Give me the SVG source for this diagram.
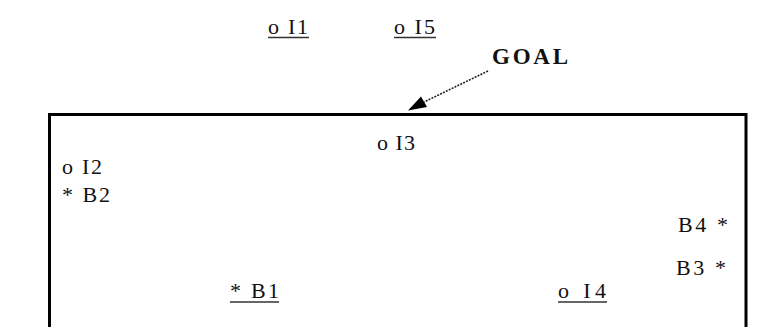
<svg xmlns="http://www.w3.org/2000/svg" width="781" height="327" viewBox="0 0 781 327">
  <style>
    .lbl { font-family: "Liberation Serif", "Times New Roman", serif; font-size: 22px; fill: #111; }
    .goal { font-family: "Liberation Serif", "Times New Roman", serif; font-size: 23px; font-weight: bold; fill: #111; }
    .ul { stroke: #333; stroke-width: 1.6; }
    .frame { fill: none; stroke: #000; stroke-width: 3; }
    .conn { fill: none; stroke: #222; stroke-width: 1.6; stroke-dasharray: 2 1.2; }
  </style>
  <rect width="781" height="327" fill="#fff"/>

  <!-- region frame, open at the bottom edge -->
  <path id="region" class="frame" d="M49.5,330 V114.5 H746 V330"/>

  <!-- nodes outside the region -->
  <g id="I1">
    <text class="lbl" x="268" y="34" textLength="40" lengthAdjust="spacing">o I1</text>
    <line class="ul" x1="268" y1="37.5" x2="309" y2="37.5"/>
  </g>
  <g id="I5">
    <text class="lbl" x="394" y="34" textLength="41" lengthAdjust="spacing">o I5</text>
    <line class="ul" x1="394" y1="37.5" x2="436" y2="37.5"/>
  </g>
  <g id="GOAL">
    <text class="goal" x="492" y="64" textLength="76" lengthAdjust="spacing">GOAL</text>
  </g>

  <!-- nodes inside the region -->
  <g id="I3">
    <text class="lbl" x="377" y="150" textLength="38" lengthAdjust="spacing">o I3</text>
  </g>
  <g id="I2">
    <text class="lbl" x="62" y="174" textLength="40" lengthAdjust="spacing">o I2</text>
  </g>
  <g id="B2">
    <text class="lbl" x="62" y="202" textLength="48" lengthAdjust="spacing">* B2</text>
  </g>
  <g id="B4">
    <text class="lbl" x="678" y="232" textLength="50" lengthAdjust="spacing">B4 *</text>
  </g>
  <g id="B3">
    <text class="lbl" x="676" y="275" textLength="50" lengthAdjust="spacing">B3 *</text>
  </g>
  <g id="B1">
    <text class="lbl" x="230" y="298" textLength="49" lengthAdjust="spacing">* B1</text>
    <line class="ul" x1="230" y1="302" x2="279" y2="302"/>
  </g>
  <g id="I4">
    <text class="lbl" x="558" y="298" textLength="48" lengthAdjust="spacing">o I4</text>
    <line class="ul" x1="558" y1="302" x2="607" y2="302"/>
  </g>

  <!-- connectors -->
  <g id="connectors">
    <line class="conn" x1="488" y1="71" x2="424" y2="102"/>
    <path d="M408,110.5 L427,107 L421,96.5 Z" fill="#000"/>
  </g>
</svg>
